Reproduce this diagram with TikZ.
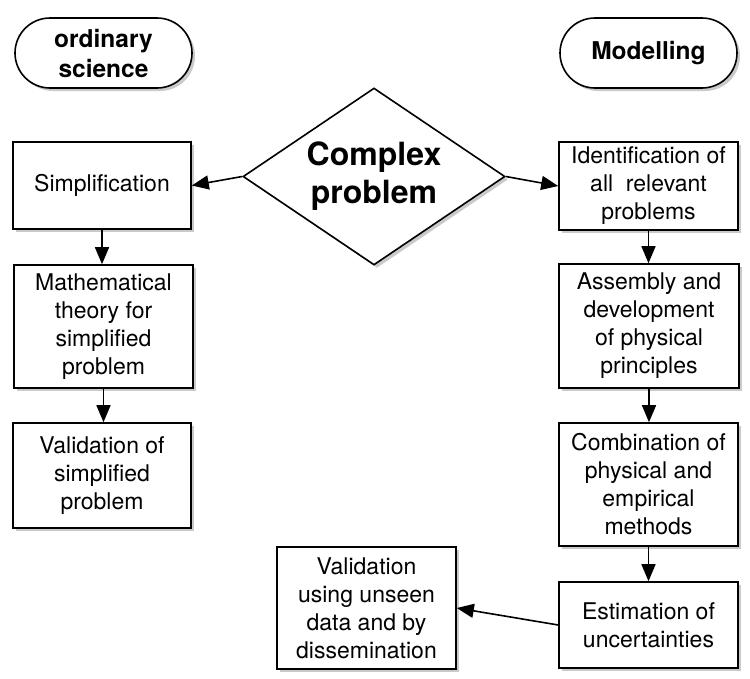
\documentclass[tikz,border=0pt]{standalone}
\usepackage{fontspec}
\setmainfont{TeX Gyre Heros}
\usetikzlibrary{arrows.meta,shapes.geometric,shadows}
\begin{document}
\begin{tikzpicture}[x=1pt,y=-1pt,
  shad/.style={drop shadow={shadow xshift=3pt,shadow yshift=-3pt,opacity=0.35,fill=black!60}},
  box/.style={draw,line width=1.6pt,fill=white,shad,align=center,inner sep=0pt,
    font=\fontsize{23}{28}\selectfont},
  term/.style={draw,line width=1.6pt,fill=white,shad,align=center,inner sep=0pt,
    rounded corners=35pt,minimum width=177pt,minimum height=70pt,
    font=\fontsize{24.5}{30}\selectfont\bfseries},
  dia/.style={draw,diamond,line width=1.6pt,fill=white,shad,align=center,inner sep=-12pt,
    minimum width=262pt,minimum height=177pt,
    font=\fontsize{32}{38}\selectfont\bfseries},
  arr/.style={line width=1.6pt,-{Triangle[length=17pt,width=14pt]}}]
\useasboundingbox (0,0) rectangle (750,678);
\node[term] (ord) at (103.5,53) {ordinary\\science};
\node[term] (mod) at (648.5,53) {Modelling};
\node[dia] (cp) at (374,176.5) {Complex\\problem};
\node[box,minimum width=178pt,minimum height=87pt] (simp) at (102,185.5) {Simplification};
\node[box,minimum width=179pt,minimum height=123pt] (math) at (103.5,326.5) {Mathematical\\theory for\\simplified\\problem};
\node[box,minimum width=178pt,minimum height=105pt] (valsimp) at (102,475.5) {Validation of\\simplified\\problem};
\node[box,minimum width=179pt,minimum height=88pt] (ident) at (648.5,186) {Identification of\\all~ relevant\\problems};
\node[box,minimum width=180pt,minimum height=124pt] (assem) at (649,326) {Assembly and\\development\\of physical\\principles};
\node[box,minimum width=179pt,minimum height=123pt] (comb) at (648.5,484.5) {Combination of\\physical and\\empirical\\methods};
\node[box,minimum width=179pt,minimum height=86pt] (est) at (648.5,625) {Estimation of\\uncertainties};
\node[box,minimum width=179pt,minimum height=122pt] (valuse) at (366.5,608) {Validation\\using unseen\\data and by\\dissemination};
\draw[arr] (cp.west) -- (simp.east);
\draw[arr] (cp.east) -- (ident.west);
\draw[arr] (simp.south) -- (simp.south |- math.north);
\draw[arr] (math.south) -- (math.south |- valsimp.north);
\draw[arr] (ident.south) -- (ident.south |- assem.north);
\draw[arr] (assem.south) -- (assem.south |- comb.north);
\draw[arr] (comb.south) -- (comb.south |- est.north);
\draw[arr] (est.west) -- (valuse.east);
\end{tikzpicture}
\end{document}
